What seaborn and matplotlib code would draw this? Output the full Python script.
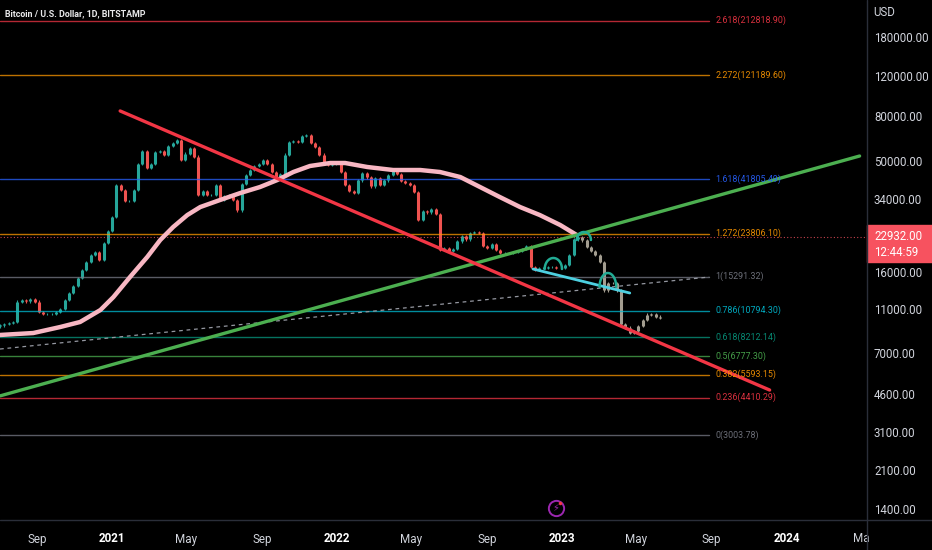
import matplotlib
matplotlib.use('Agg')
import matplotlib.pyplot as plt
import matplotlib.dates as mdates
from matplotlib.lines import Line2D
from matplotlib.patches import Rectangle
from matplotlib.ticker import NullLocator
import numpy as np
import pandas as pd
import seaborn as sns

# weekly closes, first candle on 2020-07-03
first_candle = '2020-07-03'
first_open = 9200
closes = [9300, 9400, 9500, 9600, 11800, 12000, 11900, 12150, 11800, 10640,
          10420, 10420, 10420, 10640, 10970, 12030, 12930, 13900, 15090, 16380,
          17780, 19110, 19710, 18150, 21620, 24460, 28250, 39240, 37270, 33290,
          33290, 37270, 48700, 55690, 46730, 48700, 55120, 55690, 53450, 58620,
          60440, 62330, 50740, 54000, 57430, 52360, 35410, 36890, 35410, 35410,
          39240, 33630, 35050, 35410, 33630, 30340, 39640, 43490, 45780, 47710,
          48700, 50740, 48700, 44850, 42160, 43940, 53450, 61070, 61690, 61070,
          64940, 65610, 60440, 58020, 53450, 49200, 48200, 48700, 49710, 44850,
          39240, 36890, 36140, 41300, 44390, 42590, 38830, 42160, 39240, 41300,
          43490, 46250, 43940, 40880, 40050, 39240, 36510, 27390, 30030, 29720,
          30650, 29120, 20120, 20540, 19910, 20330, 22060, 23220, 22520, 23960,
          24210, 23960, 20960, 20540, 21390, 20120, 19510, 19510, 19510, 19710,
          19910, 20330, 20960, 16890, 16380, 16720, 16720, 16890, 16890, 16720,
          16720, 17240, 19110, 22520, 22932,
          # bars pattern projection
          22290, 20750, 19910, 19110, 17780, 13330, 14330, 14330, 13330, 9400,
          9030, 8570, 8750, 9210, 9800, 10320, 10420, 10110, 10000]
n_real = 135
last_price = 22932.00
countdown = '12:44:59'

# 200 day moving average (pink)
ma_dates = ['2020-07-03', '2020-08-26', '2020-10-09', '2020-11-10', '2020-12-13',
            '2021-01-03', '2021-01-30', '2021-02-27', '2021-03-20', '2021-04-10',
            '2021-05-03', '2021-05-24', '2021-06-25', '2021-07-28', '2021-08-29',
            '2021-09-26', '2021-10-22', '2021-11-18', '2021-12-21', '2022-01-14',
            '2022-02-19', '2022-04-02', '2022-05-16', '2022-06-17', '2022-07-20',
            '2022-08-21', '2022-09-22', '2022-10-25', '2022-11-26', '2022-12-29',
            '2023-01-25']
ma_values = [8400, 8570, 9120, 9600, 10860, 12400, 15240, 18730, 22290, 25480,
             28820, 31290, 33630, 36140, 38440, 41300, 44850, 47710, 49200, 49200,
             47220, 45780, 45780, 44850, 42590, 38440, 34690, 31290, 28820, 26020,
             23460]

# fibonacci extension levels
fib_ratios = ['0', '0.236', '0.382', '0.5', '0.618', '0.786', '1', '1.272', '1.618', '2.272', '2.618']
fib_values = [3003.78, 4410.29, 5593.15, 6777.30, 8212.14, 10794.30, 15291.32,
              23806.10, 41805.49, 121189.60, 212818.90]
fib_colors = ['#787b86', '#f23645', '#ff9800', '#4caf50', '#089981', '#00bcd4',
              '#787b86', '#ff9800', '#2962ff', '#ff9800', '#f23645']
fib_end = '2023-08-28'
fib_label_at = '2023-09-07'

# drawn trend lines: (dates, prices)
red_line = (['2021-01-14', '2023-12-04'], [84000, 4770])
green_line = (['2020-07-03', '2024-04-28'], [4490, 52870])
dashed_line = (['2020-07-03', '2023-08-28'], [7270, 15240])
cyan_line = (['2022-11-15', '2023-04-21'], [16550, 12930])
# arcs: (start, end, base price, top price)
arcs = [('2022-12-04', '2023-01-01', 16550, 18530),
        ('2023-01-25', '2023-02-17', 22290, 24210),
        ('2023-03-03', '2023-03-30', 13760, 15880)]

tick_dates = ['2020-09-01', '2021-01-01', '2021-05-01', '2021-09-01', '2022-01-01', '2022-05-01',
              '2022-09-01', '2023-01-01', '2023-05-01', '2023-09-01', '2024-01-01', '2024-05-01']
tick_labels = ['Sep', '2021', 'May', 'Sep', '2022', 'May', 'Sep', '2023', 'May', 'Sep', '2024', 'Ma']
price_ticks = [1400, 2100, 3100, 4600, 7000, 11000, 16000, 34000, 50000, 80000, 120000, 180000]

sns.set_theme(style='dark', rc={'axes.facecolor': '#000000', 'figure.facecolor': '#000000',
                                'axes.grid': False})
plt.rcParams['font.family'] = ['Roboto', 'DejaVu Sans']
text_col = '#d1d4dc'
axis_fs = 8.3

W, H = 932, 550
fig = plt.figure(figsize=(W / 100, H / 100), dpi=100)
ax = fig.add_axes([0, 30 / H, 867 / W, 520 / H])
ax.set_facecolor('#000000')
ax.set_yscale('log')

# candles
dates = pd.date_range(first_candle, periods=len(closes), freq='7D')
c = np.array(closes, dtype=float)
o = np.concatenate([[first_open], c[:-1]])
cols = np.where(c >= o, '#26a69a', '#ef5350').astype(object)
cols[n_real:] = '#a39d90'
ax.vlines(dates, np.minimum(o, c) * 0.985, np.maximum(o, c) * 1.015, colors=list(cols), linewidth=0.8)
ax.vlines(dates, np.minimum(o, c), np.maximum(o, c), colors=list(cols), linewidth=2.2)

# fib levels
for r, v, col in zip(fib_ratios, fib_values, fib_colors):
    ax.plot(pd.to_datetime([first_candle, fib_end]), [v, v], color=col, lw=1, alpha=0.75)
    ax.text(pd.Timestamp(fib_label_at), v, f'{r}({v:.2f})', color=col, fontsize=6.4,
            ha='left', va='center', alpha=0.9)

# current price dotted line
ax.axhline(last_price, color='#f7525f', lw=0.8, ls=(0, (1, 2)), alpha=0.8)

# moving average
ma = pd.DataFrame({'date': pd.to_datetime(ma_dates), 'value': ma_values})
sns.lineplot(data=ma, x='date', y='value', ax=ax, color='#f8b7c3', lw=3.2, solid_capstyle='round')

# trend lines
ax.plot(pd.to_datetime(dashed_line[0]), dashed_line[1], color='#9598a1', lw=0.9, ls=(0, (3, 3)))
ax.plot(pd.to_datetime(green_line[0]), green_line[1], color='#4caf50', lw=2.4)
ax.plot(pd.to_datetime(red_line[0]), red_line[1], color='#f23645', lw=2.4)
ax.plot(pd.to_datetime(cyan_line[0]), cyan_line[1], color='#4dd0e1', lw=2)

t = np.linspace(0, np.pi, 40)
for d0, d1, base, top in arcs:
    x0, x1 = mdates.date2num(pd.Timestamp(d0)), mdates.date2num(pd.Timestamp(d1))
    xs = (x0 + x1) / 2 - (x1 - x0) / 2 * np.cos(t)
    ys = 10 ** (np.log10(base) + (np.log10(top) - np.log10(base)) * np.sin(t))
    ax.plot(mdates.num2date(xs), ys, color='#22ab94', lw=1.8)

ax.set_xlim(pd.Timestamp('2020-07-03'), pd.Timestamp('2024-05-10'))
ax.set_ylim(1254, 262800)
ax.set_xlabel('')
ax.set_ylabel('')

ax.set_xticks(pd.to_datetime(tick_dates))
ax.set_xticklabels(tick_labels)
for lab, txt in zip(ax.get_xticklabels(), tick_labels):
    lab.set_fontweight('bold' if txt.isdigit() else 'normal')
    lab.set_color('#ffffff' if txt.isdigit() else text_col)
ax.yaxis.tick_right()
ax.set_yticks(price_ticks)
ax.set_yticklabels([f'{v:.2f}' for v in price_ticks])
ax.yaxis.set_minor_locator(NullLocator())
ax.tick_params(axis='x', length=0, pad=9, labelsize=8.4)
ax.tick_params(axis='y', length=0, pad=5, labelsize=axis_fs, labelcolor=text_col)
for s in ax.spines.values():
    s.set_visible(False)

# pane borders
fig.add_artist(Line2D([867 / W, 867 / W], [0, 1], color='#2a2e39', lw=1, transform=fig.transFigure))
fig.add_artist(Line2D([0, 1], [30 / H, 30 / H], color='#2a2e39', lw=1, transform=fig.transFigure))

# price label box
fig.add_artist(Rectangle((867 / W, 1 - 262 / H), 65 / W, 37 / H, color='#f7525f', transform=fig.transFigure))
fig.text(874 / W, 1 - 236 / H, f'{last_price:.2f}', color='#ffffff', fontsize=axis_fs, va='center')
fig.text(874 / W, 1 - 252 / H, countdown, color='#ffffff', fontsize=axis_fs, va='center')

fig.text(873 / W, 1 - 13 / H, 'USD', color=text_col, fontsize=axis_fs, va='center')
fig.text(5 / W, 1 - 14 / H, 'Bitcoin / U.S. Dollar, 1D, BITSTAMP', color='#e8e8ea',
         fontsize=6.4, fontweight='bold', va='center')

# lightning badge
fig.add_artist(Line2D([556 / W], [1 - 508 / H], marker='o', markersize=11, mfc='none', mec='#9c27b0',
                      mew=1.4, transform=fig.transFigure))
fig.text(556 / W, 1 - 508 / H, '\u26a1', color='#9c27b0', fontsize=7, ha='center', va='center',
         family='DejaVu Sans')
fig.add_artist(Line2D([560 / W], [1 - 503 / H], marker='o', markersize=2.5, color='#f23645', mew=0,
                      transform=fig.transFigure))

plt.savefig('out.png', dpi=100, facecolor='#000000')
plt.close()
